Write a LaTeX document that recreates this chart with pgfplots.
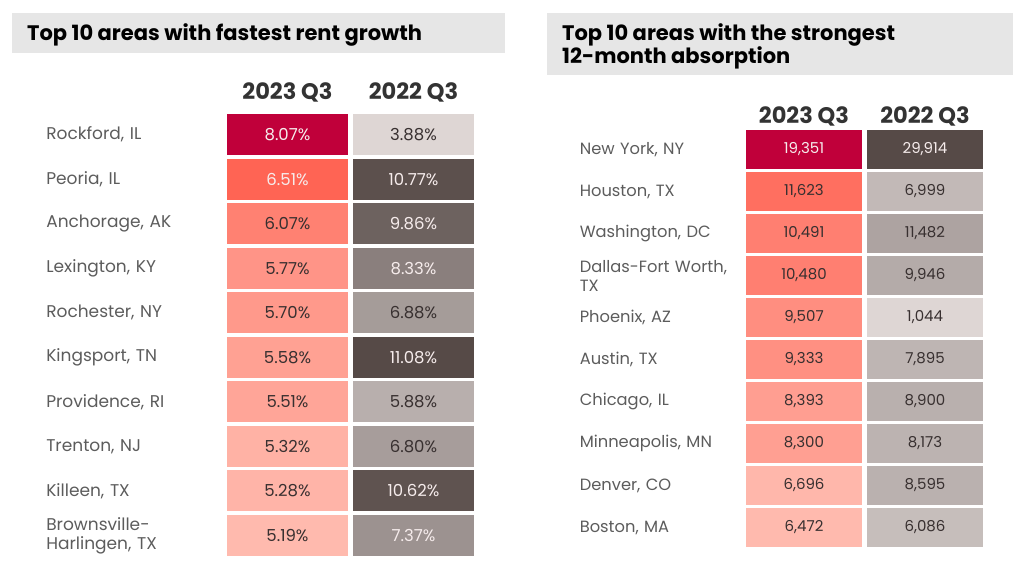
\documentclass[border=0pt]{standalone}
\usepackage{pgfplots}
\pgfplotsset{compat=1.18}
\usepackage{pgfplotstable}
\usepackage{fontspec}
\setmainfont{Poppins}
\definecolor{titlebg}{RGB}{230,230,230}
\definecolor{labelgray}{RGB}{92,92,92}
\definecolor{headdark}{RGB}{51,51,51}
\definecolor{celldark}{RGB}{56,48,48}
\definecolor{celllight}{RGB}{246,236,236}
% colour scales: reds (3-stop) and greys (2-stop)
\definecolor{rlight}{RGB}{255,186,174}
\definecolor{rmid}{RGB}{255,92,76}
\definecolor{rdark}{RGB}{192,0,58}
\definecolor{glight}{RGB}{222,214,212}
\definecolor{gdark}{RGB}{86,74,71}
\colorlet{cellfill}{white}
\colorlet{tmpc}{white}
\pgfplotsset{/pgf/number format/assume math mode=true}
\newcommand\titlefont{\fontsize{21}{25}\selectfont\bfseries}
\newcommand\headfont{\fontsize{22.5}{26}\selectfont\bfseries}
\newcommand\labfont{\fontsize{17}{19}\selectfont}
\newcommand\labfontR{\fontsize{16.3}{19}\selectfont}
\newcommand\cellfont{\fontsize{16.5}{19}\selectfont}
\newcommand\cellfontR{\fontsize{15}{18}\selectfont}

% rent growth (%), w = white text flag
\pgfplotstableread{
row v23 w23 v22 w22
1 8.07 1 3.88 0
2 6.51 1 10.77 1
3 6.07 0 9.86 1
4 5.77 0 8.33 1
5 5.70 0 6.88 0
6 5.58 0 11.08 1
7 5.51 0 5.88 0
8 5.32 0 6.80 0
9 5.28 0 10.62 1
10 5.19 0 7.37 1
}\rentdata
% 12-month absorption (units)
\pgfplotstableread{
row v23 w23 v22 w22
1 19351 1 29914 1
2 11623 0 6999 0
3 10491 0 11482 0
4 10480 0 9946 0
5 9507 0 1044 0
6 9333 0 7895 0
7 8393 0 8900 0
8 8300 0 8173 0
9 6696 0 8595 0
10 6472 0 6086 0
}\absdata

\pgfplotsset{
  heatcol/.style={
    scale only axis, clip=false,
    xmin=-0.5, xmax=0.5, ymin=0.5, ymax=10.5, y dir=reverse,
    axis line style={draw=none}, major tick length=0pt,
    xtick={0}, xticklabel pos=upper,
    xticklabel style={anchor=base, inner sep=0pt, font=\headfont, text=headdark},
    ytick={1,...,10}, yticklabels={},
    yticklabel style={anchor=east, align=left, inner sep=0pt, font=\labfont, text=labelgray},
  },
  cellnodes/.style={
    only marks, mark=none, point meta=explicit,
    every node near coord/.append style={anchor=center, inner sep=0pt, font=\cellfont, text=celldark},
  },
  cellL/.style={every node near coord/.append style={minimum width=121pt, minimum height=41pt}},
  cellR/.style={every node near coord/.append style={minimum width=116pt, minimum height=39pt, font=\cellfontR}},
  % #1 column, #2 min, #3 max of that column
  redcells/.style n args={3}{
    visualization depends on={min(200*(\thisrow{#1}-#2)/(#3-#2),100) \as \tlo},
    visualization depends on={max(200*(\thisrow{#1}-#2)/(#3-#2)-100,0) \as \thi},
    every node near coord/.append style={/utils/exec={\colorlet{tmpc}{rmid!\tlo!rlight}\colorlet{cellfill}{rdark!\thi!tmpc}}, fill=cellfill},
  },
  greycells/.style n args={3}{
    visualization depends on={100*(\thisrow{#1}-#2)/(#3-#2) \as \tg},
    every node near coord/.append style={/utils/exec={\colorlet{cellfill}{gdark!\tg!glight}}, fill=cellfill},
  },
  pctlabels/.style={nodes near coords={\ifdim\wflag pt>0.5pt \color{celllight}\fi\pgfmathprintnumber[fixed,fixed zerofill,precision=2]{\pgfplotspointmeta}\%}},
  numlabels/.style={nodes near coords={\ifdim\wflag pt>0.5pt \color{celllight}\fi\pgfmathprintnumber[fixed,precision=0,1000 sep={,}]{\pgfplotspointmeta}}},
}

\begin{document}
\begin{tikzpicture}
\path[use as bounding box] (0pt,0pt) rectangle (1024pt,-566pt);
% title bars
\fill[titlebg] (12pt,-13pt) rectangle (505pt,-53pt);
\node[anchor=base west, inner sep=0pt, font=\titlefont, text=black] at (27pt,-40pt) {Top 10 areas with fastest rent growth};
\fill[titlebg] (547pt,-13pt) rectangle (1013pt,-75pt);
\node[anchor=base west, inner sep=0pt, font=\titlefont, text=black] at (562pt,-40pt) {Top 10 areas with the strongest};
\node[anchor=base west, inner sep=0pt, font=\titlefont, text=black] at (562pt,-63pt) {12-month absorption};

% ---- left table, 2023 Q3
\begin{axis}[heatcol,
  at={(224.5pt,-112.2pt)}, anchor=north west, width=126pt, height=445.6pt,
  xticklabels={2023 Q3}, xticklabel style={yshift=13pt},
  yticklabel style={text width=178pt},
  yticklabels={{Rockford, IL},{Peoria, IL},{Anchorage, AK},{Lexington, KY},{Rochester, NY},{Kingsport, TN},{Providence, RI},{Trenton, NJ},{Killeen, TX},{Brownsville-\\Harlingen, TX}},
]
\addplot[cellnodes, cellL, redcells={v23}{5.19}{8.07}, pctlabels, visualization depends on={\thisrow{w23} \as \wflag}]
  table[x expr=0, y=row, meta=v23] {\rentdata};
\end{axis}
% ---- left table, 2022 Q3
\begin{axis}[heatcol,
  at={(350.5pt,-112.2pt)}, anchor=north west, width=126pt, height=445.6pt,
  xticklabels={2022 Q3}, xticklabel style={yshift=13pt},
]
\addplot[cellnodes, cellL, greycells={v22}{3.88}{11.08}, pctlabels, visualization depends on={\thisrow{w22} \as \wflag}]
  table[x expr=0, y=row, meta=v22] {\rentdata};
\end{axis}

% ---- right table, 2023 Q3
\begin{axis}[heatcol,
  at={(743.5pt,-128.5pt)}, anchor=north west, width=121pt, height=420pt,
  xticklabels={2023 Q3}, xticklabel style={yshift=5.5pt},
  yticklabel style={text width=163.5pt, font=\labfontR},
  yticklabels={{New York, NY},{Houston, TX},{Washington, DC},{Dallas-Fort Worth,\\TX},{Phoenix, AZ},{Austin, TX},{Chicago, IL},{Minneapolis, MN},{Denver, CO},{Boston, MA}},
]
\addplot[cellnodes, cellR, redcells={v23}{6472}{19351}, numlabels, visualization depends on={\thisrow{w23} \as \wflag}]
  table[x expr=0, y=row, meta=v23] {\absdata};
\end{axis}
% ---- right table, 2022 Q3
\begin{axis}[heatcol,
  at={(864.5pt,-128.5pt)}, anchor=north west, width=121pt, height=420pt,
  xticklabels={2022 Q3}, xticklabel style={yshift=5.5pt},
]
\addplot[cellnodes, cellR, greycells={v22}{1044}{29914}, numlabels, visualization depends on={\thisrow{w22} \as \wflag}]
  table[x expr=0, y=row, meta=v22] {\absdata};
\end{axis}
\end{tikzpicture}
\end{document}
